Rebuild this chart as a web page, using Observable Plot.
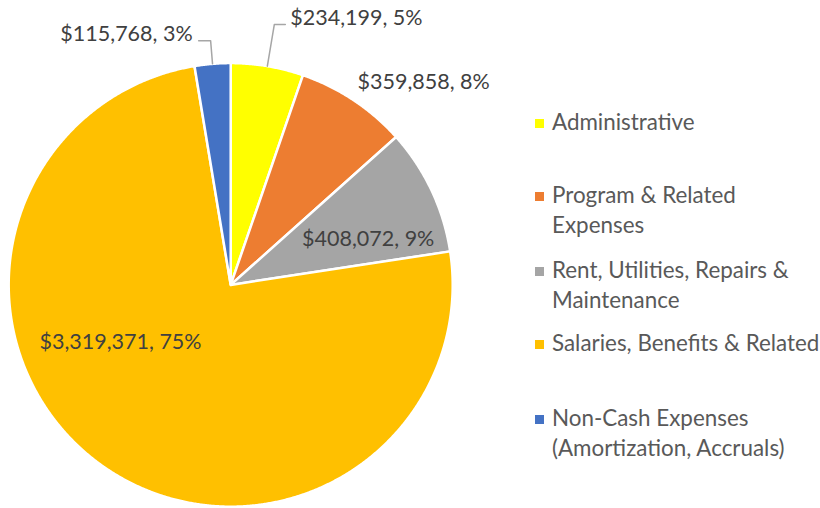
<!DOCTYPE html>
<html>
<head>
<meta charset="utf-8">
<script src="https://cdn.jsdelivr.net/npm/d3@7"></script>
<script src="https://cdn.jsdelivr.net/npm/@observablehq/plot@0.6"></script>
<style>
  html, body { margin: 0; padding: 0; background: #fff; }
  #wrap { position: relative; width: 820px; height: 508px; font-family: Lato, "Open Sans", sans-serif; }
  #chart { position: absolute; left: 0; top: 0; }
  .lg-item { position: absolute; left: 535px; display: flex; align-items: flex-start; color: #595959; font-size: 22.4px; line-height: 30px; white-space: nowrap; }
  .lg-sw { width: 9px; height: 9px; margin-top: 12px; margin-right: 8px; flex: none; }
</style>
</head>
<body>
<div id="wrap"><div id="chart"></div></div>
<script>
// ---- data ----
const categories = [
  "Administrative",
  "Program & Related Expenses",
  "Rent, Utilities, Repairs & Maintenance",
  "Salaries, Benefits & Related",
  "Non-Cash Expenses (Amortization, Accruals)"
];
const values = [234199, 359858, 408072, 3319371, 115768];
const colors = ["#FFFF00", "#ED7D31", "#A5A5A5", "#FFC000", "#4472C4"];
const legendLines = [
  ["Administrative"],
  ["Program & Related", "Expenses"],
  ["Rent, Utilities, Repairs &", "Maintenance"],
  ["Salaries, Benefits & Related"],
  ["Non-Cash Expenses", "(Amortization, Accruals)"]
];

// ---- layout (not data) ----
const R_PX = 222;
const labelLayout = [
  {r: 1.19, leader: true, hLen: 11, anchor: "start", dx: 5, dy: -6},
  {r: 1.0, leader: false, anchor: "start", dx: 4, dy: -18.5},
  {r: 0.65, leader: false, anchor: "middle", dx: 7, dy: 16},
  {r: 0.5, leader: false, anchor: "middle", dx: -45, dy: -32.5},
  {r: 1.104, leader: true, hLen: -12, anchor: "end", dx: -6, dy: -7}
];
const legendTops = [106.5, 179.5, 254.5, 327.5, 402.5];

// ---- build geometry from data ----
const total = d3.sum(values);
const arcs = d3.pie().sort(null).value(d => d)(values);
const slicePts = [];
arcs.forEach((a, i) => {
  const n = Math.max(4, Math.ceil((a.endAngle - a.startAngle) / 0.005));
  slicePts.push({cat: categories[i], x: 0, y: 0});
  for (let k = 0; k <= n; k++) {
    const t = a.startAngle + (a.endAngle - a.startAngle) * k / n;
    slicePts.push({cat: categories[i], x: Math.sin(t), y: Math.cos(t)});
  }
});

const fmt = d3.format("$,");
const labels = arcs.map((a, i) => {
  const m = (a.startAngle + a.endAngle) / 2;
  const L = labelLayout[i];
  let x = L.r * Math.sin(m), y = L.r * Math.cos(m);
  if (L.leader) x += L.hLen / R_PX;
  return {
    cat: categories[i],
    text: fmt(values[i]) + ", " + Math.round(values[i] / total * 100) + "%",
    x, y, anchor: L.anchor, dx: L.dx, dy: L.dy
  };
});

const leaderPts = [];
arcs.forEach((a, i) => {
  const L = labelLayout[i];
  if (!L.leader) return;
  const m = (a.startAngle + a.endAngle) / 2;
  const ex = L.r * Math.sin(m), ey = L.r * Math.cos(m);
  leaderPts.push({cat: categories[i], x: Math.sin(m), y: Math.cos(m)});
  leaderPts.push({cat: categories[i], x: ex, y: ey});
  leaderPts.push({cat: categories[i], x: ex + L.hLen / R_PX, y: ey});
});

const plot = Plot.plot({
  width: 820,
  height: 508,
  margin: 0,
  style: {fontFamily: "Lato, 'Open Sans', sans-serif", background: "transparent"},
  x: {domain: [-1, 1], range: [8.2, 452.2], axis: null},
  y: {domain: [-1, 1], range: [506.2, 62.6], axis: null},
  color: {domain: categories, range: colors},
  marks: [
    Plot.line(slicePts, {x: "x", y: "y", z: "cat", fill: "cat", stroke: "white", strokeWidth: 2.5, curve: "linear-closed", strokeLinejoin: "round"}),
    Plot.line(leaderPts, {x: "x", y: "y", z: "cat", stroke: "#A6A6A6", strokeWidth: 1.5}),
    ...labels.map(l => Plot.text([l], {x: "x", y: "y", text: "text", textAnchor: l.anchor, dx: l.dx, dy: l.dy, fill: "#404040", fontSize: 21.5}))
  ]
});
document.getElementById("chart").appendChild(plot);

// ---- legend ----
const wrap = document.getElementById("wrap");
categories.forEach((c, i) => {
  const item = document.createElement("div");
  item.className = "lg-item";
  item.style.top = legendTops[i] + "px";
  const sw = document.createElement("span");
  sw.className = "lg-sw";
  sw.style.background = colors[i];
  const tx = document.createElement("div");
  tx.innerHTML = legendLines[i].map(s => s.replace(/&/g, "&amp;")).join("<br>");
  item.appendChild(sw);
  item.appendChild(tx);
  wrap.appendChild(item);
});
</script>
</body>
</html>
